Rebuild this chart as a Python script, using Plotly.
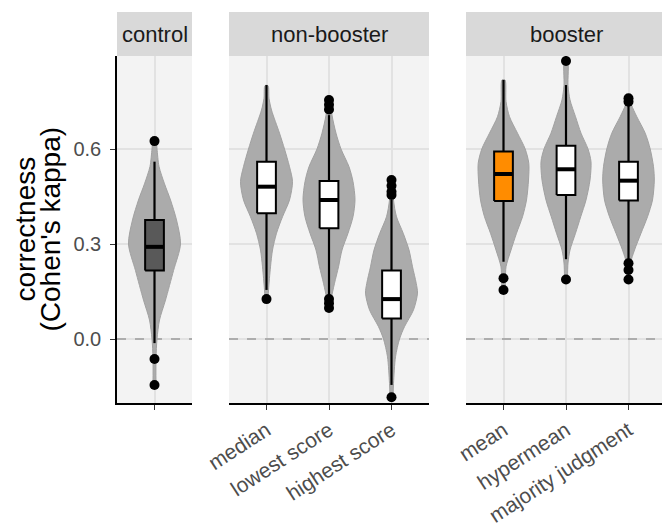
import plotly.graph_objects as go

# ---------------- data ----------------
panels = ["control", "non-booster", "booster"]
cats_control = ["control"]
cats_nonbooster = ["median", "lowest score", "highest score"]
cats_booster = ["mean", "hypermean", "majority judgment"]

# box statistics: q1, median, q3, lower whisker, upper whisker
q1_control = [0.216]
med_control = [0.291]
q3_control = [0.376]
lo_control = [-0.013]
hi_control = [0.560]

q1_nonbooster = [0.397, 0.350, 0.065]
med_nonbooster = [0.481, 0.439, 0.126]
q3_nonbooster = [0.560, 0.499, 0.216]
lo_nonbooster = [0.155, 0.139, -0.145]
hi_nonbooster = [0.802, 0.707, 0.439]

q1_booster = [0.436, 0.455, 0.437]
med_booster = [0.521, 0.536, 0.500]
q3_booster = [0.592, 0.610, 0.560]
lo_booster = [0.244, 0.252, 0.249]
hi_booster = [0.818, 0.802, 0.739]

# outliers
out_control = [[0.625, -0.063, -0.145]]
out_nonbooster = [[0.126],
                  [0.755, 0.740, 0.725, 0.126, 0.113, 0.098],
                  [0.502, 0.484, 0.465, 0.455, -0.184]]
out_booster = [[0.192, 0.155],
               [0.878, 0.188],
               [0.760, 0.749, 0.239, 0.218, 0.188]]

# violin density profiles (kappa level, relative density)
vy_control = [[-0.145, -0.06, 0.0, 0.06, 0.123, 0.216, 0.30, 0.376, 0.439, 0.49, 0.545, 0.60, 0.625]]
vd_control = [[1.5, 1.5, 2.5, 5, 11, 19, 26, 22, 16, 10, 4.5, 2.5, 1.5]]

vy_nonbooster = [
    [0.126, 0.155, 0.228, 0.281, 0.334, 0.386, 0.439, 0.497, 0.544, 0.60, 0.65, 0.723, 0.76, 0.80],
    [0.098, 0.123, 0.176, 0.228, 0.281, 0.334, 0.386, 0.44, 0.497, 0.544, 0.60, 0.65, 0.707, 0.755],
    [-0.184, -0.14, -0.056, 0.0, 0.039, 0.092, 0.145, 0.176, 0.228, 0.281, 0.334, 0.386, 0.439, 0.502],
]
vd_nonbooster = [
    [1.5, 2, 4, 6, 10, 16, 23, 26, 23, 18, 13, 5, 2.5, 1.5],
    [1.5, 2, 5.5, 9.5, 13, 19, 24, 26, 24, 20, 12, 7, 3, 1.5],
    [1.5, 2, 4, 8, 13, 22, 26, 24.7, 21, 17.5, 11.7, 5, 2, 1.5],
]

vy_booster = [
    [0.155, 0.192, 0.228, 0.281, 0.334, 0.386, 0.439, 0.502, 0.555, 0.60, 0.65, 0.702, 0.75, 0.818],
    [0.188, 0.24, 0.281, 0.334, 0.386, 0.439, 0.502, 0.56, 0.60, 0.65, 0.702, 0.755, 0.80, 0.878],
    [0.188, 0.239, 0.281, 0.334, 0.386, 0.439, 0.502, 0.544, 0.60, 0.65, 0.702, 0.739, 0.76],
]
vd_booster = [
    [1.5, 2, 2.5, 7.5, 13, 19, 23, 25, 25.3, 21.7, 14, 6, 2.5, 1.5],
    [1.5, 2, 4, 9.5, 14.7, 20, 24, 25, 22, 15, 9.5, 4, 2, 1.5],
    [1.5, 2, 6, 12.5, 19, 24, 25.8, 25, 21.7, 16.7, 8.3, 3, 1.5],
]

box_fill_control = ["#595959"]
box_fill_nonbooster = ["white", "white", "white"]
box_fill_booster = ["#FF8C00", "white", "white"]

y_ticks = [0.0, 0.3, 0.6]
y_ticktext = ["0.0", "0.3", "0.6"]
ref_level = 0.0

# ---------------- styling ----------------
W, H = 662, 531
DENS_SCALE = 1 / 62.5      # density units -> category units
BOX_W = 0.3
VIOLIN_FILL = "#ABABAB"
VIOLIN_LINE = "#A1A1A1"
PANEL_BG = "#F3F3F3"
GRID = "#E2E2E2"
STRIP_BG = "#D9D9D9"
FONT = "Liberation Sans, Arial, sans-serif"

x_domains = [[117 / W, 192 / W], [229 / W, 429 / W], [466 / W, 1.0]]
x_ranges = [[0.4, 1.6], [0.4, 3.6], [0.4, 3.536]]
strip_right = [192 / W, 429 / W, 1.0]
strip_center = [(117 + 192) / 2 / W, (229 + 429) / 2 / W, (466 + 666) / 2 / W]
y_domain = [1 - 403 / H, 1 - 56 / H]
y_range = [-0.2021, 0.8937]

fig = go.Figure()

groups = [
    (cats_control, q1_control, med_control, q3_control, lo_control, hi_control,
     out_control, vy_control, vd_control, box_fill_control),
    (cats_nonbooster, q1_nonbooster, med_nonbooster, q3_nonbooster, lo_nonbooster, hi_nonbooster,
     out_nonbooster, vy_nonbooster, vd_nonbooster, box_fill_nonbooster),
    (cats_booster, q1_booster, med_booster, q3_booster, lo_booster, hi_booster,
     out_booster, vy_booster, vd_booster, box_fill_booster),
]

shapes = []
annotations = []

for pi, (cats, q1, med, q3, lo, hi, outs, vys, vds, fills) in enumerate(groups):
    xa = "x" if pi == 0 else f"x{pi + 1}"
    ya = "y" if pi == 0 else f"y{pi + 1}"

    # dashed zero reference line (drawn first, under violins)
    fig.add_trace(go.Scatter(
        x=x_ranges[pi], y=[ref_level, ref_level], mode="lines",
        line=dict(color="#9C9C9C", width=1.6, dash="dash"),
        xaxis=xa, yaxis=ya, hoverinfo="skip", showlegend=False))

    for ci, cat in enumerate(cats):
        c = ci + 1
        ys = vys[ci]
        ds = vds[ci]
        # violin
        xs_poly = [c + d * DENS_SCALE for d in ds] + [c - d * DENS_SCALE for d in reversed(ds)]
        ys_poly = list(ys) + list(reversed(ys))
        fig.add_trace(go.Scatter(
            x=xs_poly, y=ys_poly, mode="lines", fill="toself",
            fillcolor=VIOLIN_FILL, line=dict(color=VIOLIN_LINE, width=1, shape="spline", smoothing=0.8),
            xaxis=xa, yaxis=ya, hoverinfo="skip", showlegend=False))
        # whiskers
        fig.add_trace(go.Scatter(
            x=[c, c, None, c, c], y=[lo[ci], q1[ci], None, q3[ci], hi[ci]], mode="lines",
            line=dict(color="black", width=2.2), xaxis=xa, yaxis=ya,
            hoverinfo="skip", showlegend=False))
        # box (interquartile range)
        fig.add_trace(go.Scatter(
            x=[c - BOX_W / 2, c + BOX_W / 2, c + BOX_W / 2, c - BOX_W / 2, c - BOX_W / 2],
            y=[q1[ci], q1[ci], q3[ci], q3[ci], q1[ci]], mode="lines", fill="toself",
            fillcolor=fills[ci], line=dict(color="black", width=2), xaxis=xa, yaxis=ya,
            name=cat, showlegend=False))
        # median
        fig.add_trace(go.Scatter(
            x=[c - BOX_W / 2, c + BOX_W / 2], y=[med[ci], med[ci]], mode="lines",
            line=dict(color="black", width=4), xaxis=xa, yaxis=ya,
            hoverinfo="skip", showlegend=False))
        # outliers
        fig.add_trace(go.Scatter(
            x=[c] * len(outs[ci]), y=outs[ci], mode="markers",
            marker=dict(color="black", size=10), xaxis=xa, yaxis=ya,
            showlegend=False))

    # strip
    shapes.append(dict(type="rect", xref="paper", yref="paper",
                       x0=x_domains[pi][0], x1=strip_right[pi],
                       y0=y_domain[1], y1=1 - 12 / H,
                       fillcolor=STRIP_BG, line=dict(width=0), layer="above"))
    annotations.append(dict(text=panels[pi], xref="paper", yref="paper",
                            x=strip_center[pi], y=1 - 34 / H, showarrow=False,
                            xanchor="center", yanchor="middle",
                            font=dict(size=22, color="#1A1A1A", family=FONT)))

    xaxis = dict(domain=x_domains[pi], range=x_ranges[pi], tickmode="array",
                 tickvals=list(range(1, len(cats) + 1)),
                 ticktext=cats if pi > 0 else [""],
                 tickangle=-33, showgrid=True, gridcolor=GRID, gridwidth=1.5,
                 zeroline=False, showline=True, linecolor="black", linewidth=1.6,
                 ticks="outside", ticklen=5, tickcolor="#333333", tickwidth=1.2,
                 tickfont=dict(size=21, color="#4D4D4D", family=FONT),
                 anchor=ya, fixedrange=True, automargin=False)
    yaxis = dict(domain=y_domain, range=y_range, tickmode="array", tickvals=y_ticks,
                 ticktext=y_ticktext, showgrid=True, gridcolor=GRID, gridwidth=1.5,
                 zeroline=False, anchor=xa, fixedrange=True, automargin=False,
                 showticklabels=(pi == 0), showline=(pi == 0), linecolor="black", linewidth=1.6,
                 ticks="outside" if pi == 0 else "", ticklen=5, tickcolor="#333333", tickwidth=1.2,
                 ticklabelstandoff=5,
                 tickfont=dict(size=20, color="#4D4D4D", family=FONT))
    key = "" if pi == 0 else str(pi + 1)
    fig.update_layout(**{f"xaxis{key}": xaxis, f"yaxis{key}": yaxis})

# y-axis title (two lines)
annotations.append(dict(text="correctness", xref="paper", yref="paper", x=25 / W, y=1 - 229.5 / H,
                        textangle=-90, showarrow=False, xanchor="center", yanchor="middle",
                        font=dict(size=28, color="black", family=FONT)))
annotations.append(dict(text="(Cohen's kappa)", xref="paper", yref="paper", x=50 / W, y=1 - 229.5 / H,
                        textangle=-90, showarrow=False, xanchor="center", yanchor="middle",
                        font=dict(size=28, color="black", family=FONT)))

fig.update_layout(width=W, height=H, margin=dict(l=0, r=0, t=0, b=0, autoexpand=False),
                  paper_bgcolor="white", plot_bgcolor=PANEL_BG,
                  showlegend=False, font=dict(family=FONT),
                  shapes=shapes, annotations=annotations)

fig.write_html("out.html")
